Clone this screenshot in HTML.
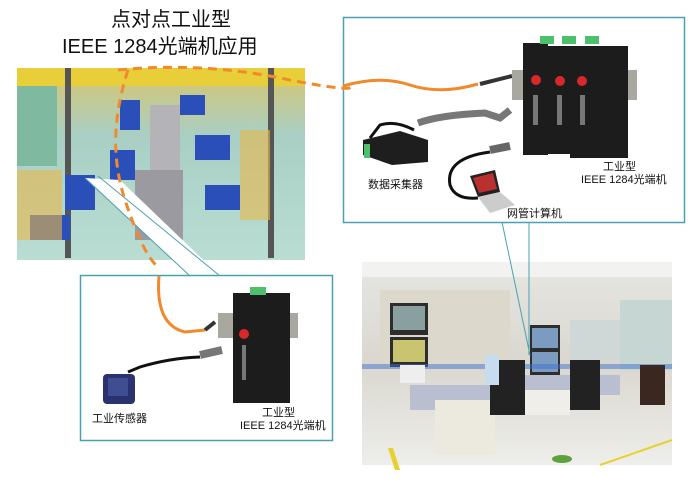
<!DOCTYPE html>
<html><head><meta charset="utf-8"><style>
body{margin:0;width:700px;height:495px;background:#fff;overflow:hidden;position:relative;font-family:"Liberation Sans","Noto Sans CJK SC",sans-serif}
.t{position:absolute;color:#111;white-space:nowrap}
</style></head><body>
<div class="t" style="left:96px;top:8px;font-size:20px;line-height:24px;width:150px;text-align:center">点对点工业型</div>
<div class="t" style="left:62px;top:35px;font-size:20px;line-height:24px">IEEE 1284光端机应用</div>
<svg width="700" height="495" style="position:absolute;left:0;top:0">
<defs>
<linearGradient id="fl" x1="0" y1="0" x2="0" y2="1"><stop offset="0" stop-color="#d9c56a"/><stop offset="0.35" stop-color="#a9cfc4"/><stop offset="1" stop-color="#b9ddd3"/></linearGradient>
<linearGradient id="cr" x1="0" y1="0" x2="0" y2="1"><stop offset="0" stop-color="#e6e6e2"/><stop offset="0.5" stop-color="#d9d7cf"/><stop offset="1" stop-color="#eeeeea"/></linearGradient>
</defs>
<!-- factory photo -->
<rect x="17" y="68" width="288" height="192" fill="url(#fl)"/>
<rect x="17" y="68" width="288" height="18" fill="#e8cf3a"/>
<rect x="17" y="86" width="40" height="80" fill="#7fb9a0"/>
<rect x="65" y="68" width="6" height="190" fill="#555"/>
<rect x="268" y="68" width="6" height="190" fill="#555"/>
<rect x="150" y="105" width="30" height="120" fill="#b4b4b8"/>
<rect x="135" y="170" width="48" height="70" fill="#9a9aa0"/>
<g fill="#2a4fb8"><rect x="30" y="215" width="40" height="25"/><rect x="65" y="175" width="30" height="35"/><rect x="110" y="150" width="25" height="30"/><rect x="195" y="135" width="35" height="25"/><rect x="205" y="185" width="35" height="25"/><rect x="120" y="100" width="20" height="30"/><rect x="180" y="95" width="25" height="20"/></g>
<g fill="#e8b84a"><rect x="17" y="170" width="45" height="70" opacity=".6"/><rect x="240" y="130" width="30" height="90" opacity=".6"/></g>
<!-- control room photo -->
<rect x="362" y="262" width="310" height="203" fill="url(#cr)"/>
<rect x="362" y="262" width="310" height="15" fill="#f2f2f0"/>
<rect x="380" y="290" width="130" height="80" fill="#ddd8cc"/>
<rect x="390" y="303" width="38" height="32" fill="#2d2d2d"/><rect x="393" y="306" width="32" height="24" fill="#8aa0a0"/>
<rect x="390" y="337" width="38" height="30" fill="#2d2d2d"/><rect x="393" y="340" width="32" height="22" fill="#c8c470"/>
<rect x="530" y="325" width="30" height="55" fill="#2d2d2d"/><rect x="532" y="328" width="26" height="20" fill="#7b9cc0"/><rect x="532" y="352" width="26" height="20" fill="#7b9cc0"/>
<rect x="570" y="320" width="50" height="40" fill="#cfd8d6"/><rect x="620" y="300" width="52" height="70" fill="#c6d6d3"/>
<rect x="362" y="364" width="310" height="5" fill="#3d6fd0" opacity=".5"/>
<rect x="410" y="385" width="110" height="25" fill="#b9bed0"/><rect x="435" y="400" width="60" height="55" fill="#ece9df"/>
<rect x="520" y="375" width="100" height="20" fill="#b9bed0"/><rect x="525" y="390" width="45" height="25" fill="#f0eee8"/>
<rect x="490" y="360" width="35" height="55" fill="#222"/><rect x="570" y="360" width="30" height="50" fill="#222"/><rect x="640" y="365" width="25" height="40" fill="#3a2820"/>
<rect x="485" y="355" width="14" height="30" fill="#c8dcef"/>
<rect x="400" y="365" width="25" height="18" fill="#eee"/>
<polygon points="393,448 400,470 395,470 388,448" fill="#e8d030"/>
<line x1="600" y1="465" x2="672" y2="440" stroke="#e8d030" stroke-width="2"/>
<ellipse cx="562" cy="459" rx="10" ry="4" fill="#5fa040"/>
<!-- callout bottom -->
<polygon points="85,178 190,276 220,276 120,180" fill="#fff"/>
<line x1="85" y1="178" x2="190" y2="276" stroke="#4aa0b2" stroke-width="1"/>
<line x1="98" y1="176" x2="220" y2="276" stroke="#4aa0b2" stroke-width="1"/>
<!-- callout right -->
<line x1="502" y1="222" x2="530" y2="355" stroke="#4aa0b2" stroke-width="1"/>
<line x1="529" y1="222" x2="529" y2="355" stroke="#4aa0b2" stroke-width="1"/>
<!-- boxes -->
<rect x="343.5" y="17.5" width="341" height="205" fill="#fff" stroke="#4aa0b2" stroke-width="1.5"/>
<rect x="80.5" y="275.5" width="252" height="165" fill="#fff" stroke="#4aa0b2" stroke-width="1.5"/>
<!-- orange dashed -->
<path d="M118,70 Q200,62 280,78 T350,85" fill="none" stroke="#f08a2c" stroke-width="3" stroke-dasharray="9,6"/>
<path d="M128,70 Q105,140 125,200 T160,268" fill="none" stroke="#f08a2c" stroke-width="3" stroke-dasharray="9,6"/>
<!-- orange solid -->
<path d="M343,86 Q380,75 410,85 T478,84" fill="none" stroke="#f08a2c" stroke-width="3"/>
<path d="M159,276 Q155,325 185,332 L205,330" fill="none" stroke="#f08a2c" stroke-width="3"/>
<!-- connectors -->
<path d="M480,84 L512,76" stroke="#333" stroke-width="4"/>
<path d="M205,330 L215,322" stroke="#333" stroke-width="4"/>
<!-- top devices -->
<rect x="512" y="70" width="125" height="30" fill="#a8a8a0"/>
<g fill="#1c1c1c"><rect x="523" y="43" width="25" height="112"/><rect x="548" y="46" width="22" height="108"/><rect x="570" y="46" width="58" height="112"/></g>
<g fill="#4cc06a"><rect x="540" y="36" width="14" height="8"/><rect x="562" y="36" width="14" height="8"/><rect x="585" y="36" width="14" height="8"/></g>
<g fill="#d8282a"><circle cx="536" cy="80" r="5"/><circle cx="560" cy="81" r="5"/><circle cx="582" cy="81" r="5"/></g>
<g fill="#777"><rect x="533" y="95" width="5" height="30"/><rect x="557" y="95" width="5" height="30"/><rect x="580" y="95" width="5" height="30"/></g>
<path d="M418,123 Q440,115 485,113 L500,118 L510,110" stroke="#777" stroke-width="7" fill="none"/>
<path d="M414,130 Q395,120 380,125 L370,138" stroke="#111" stroke-width="3" fill="none"/>
<path d="M490,150 L510,146" stroke="#666" stroke-width="8"/>
<path d="M490,152 Q445,158 450,185 Q455,200 478,198" stroke="#111" stroke-width="3" fill="none"/>
<polygon points="363,140 400,131 428,140 428,162 392,165 363,155" fill="#1e1e1e"/>
<rect x="364" y="144" width="6" height="14" fill="#4cc06a"/>
<polygon points="470,176 495,170 500,192 478,197" fill="#222"/><polygon points="473,178 493,173 497,189 479,193" fill="#b83030"/>
<polygon points="478,197 500,192 515,205 490,213" fill="#ccc"/>
<!-- bottom device -->
<rect x="218" y="313" width="80" height="25" fill="#a8a8a0"/>
<rect x="233" y="293" width="57" height="110" fill="#1c1c1c"/>
<rect x="250" y="287" width="16" height="8" fill="#4cc06a"/>
<circle cx="244" cy="334" r="5" fill="#d8282a"/>
<rect x="242" y="345" width="4" height="35" fill="#777"/>
<path d="M200,355 L222,350" stroke="#777" stroke-width="8"/>
<path d="M200,357 Q170,358 140,367 L128,372" stroke="#111" stroke-width="3" fill="none"/>
<rect x="103" y="374" width="32" height="30" rx="4" fill="#2a3370"/>
<rect x="108" y="378" width="20" height="18" fill="#3f4e90"/>
</svg>
<div class="t" style="left:368px;top:176px;font-size:11px">数据采集器</div>
<div class="t" style="left:603px;top:158px;font-size:11px">工业型</div>
<div class="t" style="left:581px;top:171px;font-size:11px">IEEE 1284光端机</div>
<div class="t" style="left:507px;top:205px;font-size:11px">网管计算机</div>
<div class="t" style="left:92px;top:410px;font-size:11px">工业传感器</div>
<div class="t" style="left:262px;top:404px;font-size:11px">工业型</div>
<div class="t" style="left:240px;top:417px;font-size:11px">IEEE 1284光端机</div>
</body></html>
